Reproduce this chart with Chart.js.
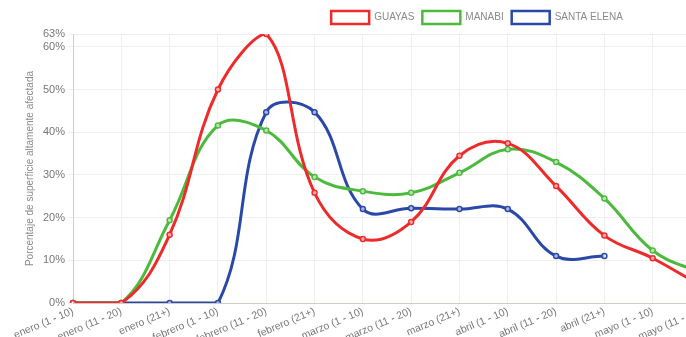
<!DOCTYPE html>
<html>
<head>
<meta charset="utf-8">
<script src="https://cdn.jsdelivr.net/npm/chart.js@4"></script>
<style>
  html, body { margin: 0; padding: 0; background: #fff; overflow: hidden; }
  #wrap { width: 728px; height: 348px; position: relative; }
</style>
</head>
<body>
<div id="wrap"><canvas id="c"></canvas></div>
<script>
const categories = [
  'enero (1 - 10)', 'enero (11 - 20)', 'enero (21+)',
  'febrero (1 - 10)', 'febrero (11 - 20)', 'febrero (21+)',
  'marzo (1 - 10)', 'marzo (11 - 20)', 'marzo (21+)',
  'abril (1 - 10)', 'abril (11 - 20)', 'abril (21+)',
  'mayo (1 - 10)', 'mayo (11 - 20)'
];
const guayas     = [0, 0, 16, 50, 63, 25.8, 15, 19, 34.5, 37.4, 27.4, 15.8, 10.5, 4];
const manabi     = [0, 0, 19.4, 41.6, 40.4, 29.5, 26.2, 25.8, 30.5, 36, 33, 24.5, 12.3, 7];
const santaElena = [0, 0, 0, 0, 44.7, 44.7, 22, 22.2, 22, 22, 11, 11, null, null];
const seriesNames = ['GUAYAS', 'MANABI', 'SANTA ELENA'];
const seriesColors = ['#ee2a2a', '#4cba3c', '#2a48a8'];
const yTicks = [0, 10, 20, 30, 40, 50, 60, 63];

const mk = (label, data, color) => ({
  label, data,
  borderColor: color,
  backgroundColor: '#ffffff',
  borderWidth: 3,
  tension: 0.4,
  pointRadius: 2.5,
  pointBorderWidth: 1.5,
  pointBackgroundColor: 'rgba(255,255,255,0.6)',
  pointBorderColor: color,
  spanGaps: false,
  fill: false
});

// The legend of the reference sits to the right of the canvas centre.
const legendShift = {
  id: 'legendShift',
  afterLayout(chart) {
    const lg = chart.legend;
    if (!lg) return;
    const shift = 477 - (lg.left + lg.right) / 2;
    lg.left += shift;
    lg.right += shift;
  }
};

new Chart(document.getElementById('c'), {
  type: 'line',
  data: {
    labels: categories,
    datasets: [
      mk(seriesNames[0], guayas, seriesColors[0]),
      mk(seriesNames[1], manabi, seriesColors[1]),
      mk(seriesNames[2], santaElena, seriesColors[2])
    ]
  },
  plugins: [legendShift],
  options: {
    responsive: true,
    maintainAspectRatio: false,
    animation: false,
    layout: { padding: { left: 20, right: 27, top: 3, bottom: 0 } },
    plugins: {
      legend: {
        position: 'top',
        labels: {
          boxWidth: 38,
          boxHeight: 13,
          padding: 8,
          color: '#8a8a8a',
          font: { family: '"Liberation Sans", Arial, sans-serif', size: 10 },
          generateLabels(chart) {
            return chart.data.datasets.map((d, i) => ({
              text: d.label,
              fillStyle: '#ffffff',
              strokeStyle: d.borderColor,
              lineWidth: 2.5,
              fontColor: '#8a8a8a',
              datasetIndex: i
            }));
          }
        }
      },
      tooltip: { enabled: false }
    },
    scales: {
      x: {
        grid: { color: '#efefef', drawTicks: false },
        border: { color: '#d2ccc6' },
        ticks: {
          color: '#777',
          font: { family: '"Liberation Sans", Arial, sans-serif', size: 10.5 },
          minRotation: 23,
          maxRotation: 23,
          autoSkip: false,
          padding: 2
        }
      },
      y: {
        min: 0,
        max: 63,
        afterBuildTicks(scale) { scale.ticks = yTicks.map(v => ({ value: v })); },
        grid: { color: '#efefef', tickLength: 5 },
        border: { color: '#d2ccc6' },
        title: {
          display: true,
          text: 'Porcentaje de superficie altamente afectada',
          color: '#8a8a8a',
          font: { family: '"Liberation Sans", Arial, sans-serif', size: 10 },
          padding: { top: 4, bottom: 4 }
        },
        ticks: {
          color: '#777',
          font: { family: '"Liberation Sans", Arial, sans-serif', size: 11 },
          padding: 3,
          callback: v => v + '%'
        }
      }
    }
  }
});
</script>
</body>
</html>
